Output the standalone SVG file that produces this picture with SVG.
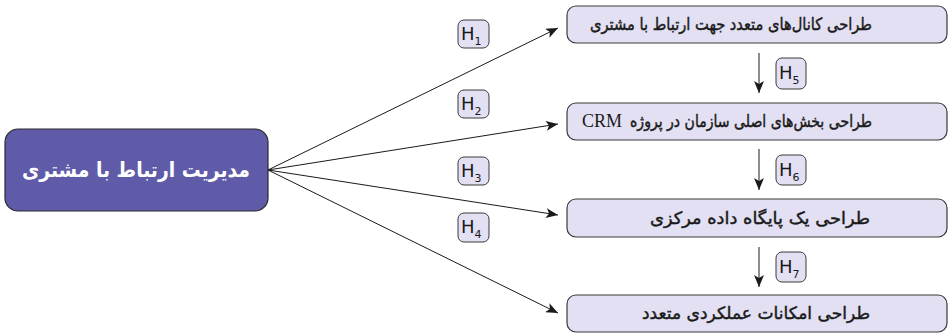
<svg xmlns="http://www.w3.org/2000/svg" width="949" height="333" viewBox="0 0 949 333">
<style>
.main{fill:#5f5ba8;stroke:#2b2b2b;stroke-width:1.2}
.box{fill:#e2e0f2;stroke:#3a3a3a;stroke-width:1.2}
.hb{fill:#e2e0f2;stroke:#3a3a3a;stroke-width:1}
.t{font-family:"DejaVu Sans",sans-serif;font-size:17px;fill:#1a1a1a;stroke:#1a1a1a;stroke-width:0.45}
.mt{font-family:"DejaVu Sans",sans-serif;font-size:21px;fill:#ffffff;font-weight:bold}
.h{font-family:"DejaVu Sans",sans-serif;font-size:18px;fill:#1a1a1a}
.s{font-size:11px}
.ln{stroke:#1a1a1a;stroke-width:1;fill:none;marker-end:url(#ah)}
</style>
<defs>
<marker id="ah" viewBox="0 0 12 10" refX="12" refY="5" markerWidth="12" markerHeight="10" markerUnits="userSpaceOnUse" orient="auto">
<path d="M0,0 L12,5 L0,10 L3,5 Z" fill="#1a1a1a"/>
</marker>
</defs>
<g id="connectors">
<line class="ln" x1="268" y1="170" x2="558" y2="28"/>
<line class="ln" x1="268" y1="170" x2="558" y2="124"/>
<line class="ln" x1="268" y1="170" x2="558" y2="215"/>
<line class="ln" x1="268" y1="170" x2="558" y2="313"/>
<line class="ln" x1="759" y1="53" x2="759" y2="93"/>
<line class="ln" x1="759" y1="149" x2="759" y2="190"/>
<line class="ln" x1="759" y1="247" x2="759" y2="287"/>
</g>
<g id="main">
<rect class="main" x="5" y="129" width="263" height="82" rx="13"/>
<text class="mt" x="136" y="177" text-anchor="middle" direction="rtl" textLength="228" lengthAdjust="spacingAndGlyphs">مدیریت ارتباط با مشتری</text>
</g>
<g id="n1">
<rect class="box" x="567" y="6" width="380" height="37" rx="9"/>
<text class="t" x="731" y="30" text-anchor="middle" direction="rtl" textLength="282" lengthAdjust="spacingAndGlyphs">طراحی کانال‌های متعدد جهت ارتباط با مشتری</text>
</g>
<g id="n2">
<rect class="box" x="567" y="103" width="380" height="37" rx="9"/>
<text class="t" x="751" y="127" text-anchor="middle" direction="rtl" textLength="242" lengthAdjust="spacingAndGlyphs">طراحی بخش‌های اصلی سازمان در پروژه</text>
<text x="582" y="127" font-family="Liberation Serif, serif" font-size="18px" fill="#1a1a1a">CRM</text>
</g>
<g id="n3">
<rect class="box" x="567" y="199" width="380" height="38" rx="9"/>
<text class="t" x="760" y="224" text-anchor="middle" direction="rtl" textLength="220" lengthAdjust="spacingAndGlyphs">طراحی یک پایگاه داده مرکزی</text>
</g>
<g id="n4">
<rect class="box" x="567" y="295" width="380" height="37" rx="9"/>
<text class="t" x="756" y="319" text-anchor="middle" direction="rtl" textLength="228" lengthAdjust="spacingAndGlyphs">طراحی امکانات عملکردی متعدد</text>
</g>
<g id="H1"><rect class="hb" x="458" y="20" width="31" height="28" rx="6"/><text class="h" x="461" y="40">H<tspan class="s" dy="5">1</tspan></text></g>
<g id="H2"><rect class="hb" x="458" y="90" width="31" height="28" rx="6"/><text class="h" x="461" y="110">H<tspan class="s" dy="5">2</tspan></text></g>
<g id="H3"><rect class="hb" x="458" y="157" width="31" height="28" rx="6"/><text class="h" x="461" y="177">H<tspan class="s" dy="5">3</tspan></text></g>
<g id="H4"><rect class="hb" x="458" y="213" width="31" height="29" rx="6"/><text class="h" x="461" y="233">H<tspan class="s" dy="5">4</tspan></text></g>
<g id="H5"><rect class="hb" x="776" y="58" width="30" height="31" rx="6"/><text class="h" x="779" y="79">H<tspan class="s" dy="5">5</tspan></text></g>
<g id="H6"><rect class="hb" x="776" y="155" width="30" height="30" rx="6"/><text class="h" x="779" y="176">H<tspan class="s" dy="5">6</tspan></text></g>
<g id="H7"><rect class="hb" x="776" y="252" width="30" height="30" rx="6"/><text class="h" x="779" y="273">H<tspan class="s" dy="5">7</tspan></text></g>
</svg>
